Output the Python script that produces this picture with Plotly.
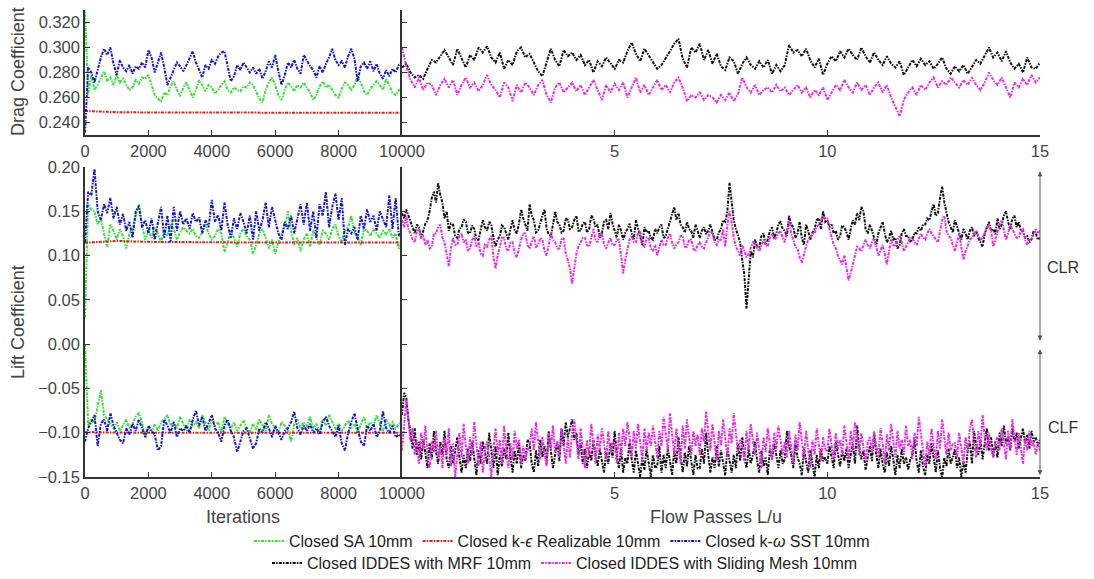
import numpy as np
import plotly.graph_objects as go

# ---------------- data ----------------
# Left panels: iterations 0..10000 (evenly sampled)
ITER_MAX = 10000
sa_cd = [0.332, 0.262, 0.278, 0.266, 0.270, 0.276, 0.281, 0.273, 0.276, 0.270,
         0.278, 0.272, 0.275, 0.270, 0.266, 0.268, 0.274, 0.271, 0.276, 0.275,
         0.278, 0.270, 0.262, 0.259, 0.257, 0.264, 0.262, 0.269, 0.273, 0.266,
         0.261, 0.268, 0.272, 0.266, 0.260, 0.266, 0.274, 0.270, 0.265, 0.270,
         0.268, 0.263, 0.266, 0.270, 0.273, 0.266, 0.264, 0.268, 0.266, 0.265,
         0.269, 0.268, 0.272, 0.270, 0.265, 0.259, 0.256, 0.266, 0.272, 0.276,
         0.270, 0.262, 0.258, 0.266, 0.272, 0.269, 0.265, 0.270, 0.268, 0.272,
         0.268, 0.264, 0.258, 0.262, 0.269, 0.273, 0.268, 0.270, 0.266, 0.262,
         0.260, 0.267, 0.272, 0.270, 0.266, 0.270, 0.277, 0.272, 0.265, 0.262,
         0.267, 0.270, 0.273, 0.270, 0.266, 0.275, 0.270, 0.264, 0.262, 0.266,
         0.265]
ke_cd = [0.2492, 0.2483, 0.2480, 0.2479, 0.2478, 0.2478, 0.2478, 0.2478, 0.2478, 0.2478, 0.2478]
sst_cd = [0.232, 0.284, 0.280, 0.272, 0.282, 0.292, 0.299, 0.294, 0.300, 0.287,
          0.278, 0.290, 0.284, 0.281, 0.286, 0.279, 0.285, 0.283, 0.288, 0.284,
          0.298, 0.292, 0.280, 0.288, 0.296, 0.284, 0.270, 0.276, 0.282, 0.288,
          0.285, 0.281, 0.286, 0.292, 0.297, 0.288, 0.282, 0.276, 0.286, 0.283,
          0.290, 0.287, 0.293, 0.296, 0.297, 0.285, 0.273, 0.277, 0.286, 0.282,
          0.288, 0.284, 0.280, 0.284, 0.279, 0.283, 0.275, 0.281, 0.289, 0.284,
          0.294, 0.281, 0.270, 0.278, 0.288, 0.284, 0.290, 0.283, 0.279, 0.294,
          0.289, 0.285, 0.282, 0.276, 0.285, 0.280, 0.287, 0.292, 0.299, 0.290,
          0.286, 0.289, 0.284, 0.293, 0.299, 0.291, 0.273, 0.285, 0.288, 0.283,
          0.289, 0.281, 0.287, 0.279, 0.275, 0.282, 0.277, 0.283, 0.280, 0.286,
          0.288]

sa_clr = [0.030, 0.158, 0.152, 0.150, 0.135, 0.142, 0.125, 0.110, 0.135, 0.128,
          0.118, 0.130, 0.122, 0.108, 0.125, 0.130, 0.145, 0.158, 0.135, 0.118,
          0.128, 0.120, 0.132, 0.125, 0.115, 0.128, 0.122, 0.135, 0.130, 0.118,
          0.126, 0.132, 0.128, 0.125, 0.130, 0.122, 0.120, 0.128, 0.135, 0.125,
          0.118, 0.122, 0.130, 0.125, 0.104, 0.115, 0.128, 0.120, 0.110, 0.125,
          0.130, 0.122, 0.118, 0.102, 0.112, 0.125, 0.130, 0.120, 0.108, 0.118,
          0.102, 0.115, 0.125, 0.132, 0.150, 0.128, 0.112, 0.120, 0.105, 0.118,
          0.125, 0.110, 0.128, 0.120, 0.112, 0.128, 0.125, 0.118, 0.130, 0.135,
          0.122, 0.115, 0.128, 0.132, 0.145, 0.125, 0.120, 0.112, 0.130, 0.128,
          0.122, 0.130, 0.125, 0.120, 0.128, 0.124, 0.130, 0.120, 0.125, 0.108,
          0.115]
ke_clr = [0.1145, 0.1165, 0.1155, 0.1150, 0.1148, 0.1148, 0.1148, 0.1148, 0.1148, 0.1148, 0.1148]
sst_clr = [0.115, 0.172, 0.168, 0.198, 0.150, 0.140, 0.158, 0.148, 0.165, 0.142,
           0.155, 0.135, 0.147, 0.128, 0.138, 0.120, 0.150, 0.156, 0.132, 0.140,
           0.125, 0.142, 0.118, 0.138, 0.155, 0.120, 0.145, 0.116, 0.155, 0.128,
           0.150, 0.135, 0.142, 0.130, 0.148, 0.138, 0.143, 0.125, 0.140, 0.132,
           0.163, 0.138, 0.146, 0.128, 0.160, 0.135, 0.120, 0.142, 0.130, 0.148,
           0.138, 0.125, 0.145, 0.118, 0.150, 0.128, 0.140, 0.160, 0.132, 0.155,
           0.140, 0.125, 0.118, 0.138, 0.130, 0.145, 0.125, 0.140, 0.158, 0.135,
           0.160, 0.128, 0.150, 0.120, 0.158, 0.145, 0.172, 0.132, 0.155, 0.170,
           0.140, 0.165, 0.112, 0.130, 0.125, 0.132, 0.118, 0.145, 0.130, 0.152,
           0.138, 0.145, 0.128, 0.150, 0.140, 0.132, 0.168, 0.130, 0.165, 0.122,
           0.128]

sa_clf = [0.000, -0.092, -0.085, -0.088, -0.070, -0.052, -0.080, -0.085, -0.090, -0.095,
          -0.088, -0.098, -0.092, -0.085, -0.095, -0.090, -0.082, -0.078, -0.088, -0.105,
          -0.095, -0.100, -0.090, -0.098, -0.088, -0.085, -0.080, -0.092, -0.088, -0.095,
          -0.082, -0.090, -0.098, -0.085, -0.092, -0.088, -0.095, -0.080, -0.090, -0.098,
          -0.085, -0.092, -0.088, -0.100, -0.082, -0.090, -0.095, -0.088, -0.098, -0.092,
          -0.086, -0.095, -0.100, -0.090, -0.096, -0.085, -0.092, -0.098, -0.080, -0.090,
          -0.095, -0.100, -0.088, -0.092, -0.098, -0.110, -0.090, -0.085, -0.095, -0.088,
          -0.092, -0.082, -0.095, -0.090, -0.100, -0.085, -0.092, -0.080, -0.088, -0.095,
          -0.090, -0.098, -0.092, -0.086, -0.095, -0.090, -0.100, -0.092, -0.082, -0.095,
          -0.088, -0.092, -0.080, -0.090, -0.098, -0.085, -0.092, -0.088, -0.095, -0.090,
          -0.088]
ke_clf = [-0.0995, -0.1000, -0.1000, -0.1000, -0.1000, -0.1000, -0.1000, -0.1000, -0.1000, -0.1000, -0.1000]
sst_clf = [-0.110, -0.095, -0.088, -0.080, -0.115, -0.090, -0.085, -0.098, -0.078, -0.092,
           -0.100, -0.108, -0.112, -0.095, -0.102, -0.090, -0.098, -0.085, -0.095, -0.105,
           -0.092, -0.098, -0.102, -0.120, -0.115, -0.085, -0.092, -0.100, -0.088, -0.105,
           -0.095, -0.098, -0.092, -0.100, -0.085, -0.075, -0.092, -0.082, -0.098, -0.090,
           -0.080, -0.095, -0.100, -0.110, -0.092, -0.085, -0.098, -0.105, -0.122, -0.110,
           -0.098, -0.095, -0.108, -0.118, -0.112, -0.095, -0.100, -0.088, -0.095, -0.105,
           -0.092, -0.100, -0.108, -0.098, -0.095, -0.088, -0.076, -0.095, -0.102, -0.092,
           -0.098, -0.090, -0.100, -0.095, -0.102, -0.088, -0.082, -0.092, -0.098, -0.105,
           -0.092, -0.112, -0.120, -0.100, -0.088, -0.078, -0.095, -0.110, -0.115, -0.092,
           -0.098, -0.090, -0.105, -0.098, -0.076, -0.095, -0.100, -0.092, -0.105, -0.102,
           -0.105]

# Right panels: flow passes L/u 0..15 (evenly sampled)
FP_MAX = 15
mrf_cd = [0.284, 0.287, 0.280, 0.276, 0.278, 0.275, 0.283, 0.290, 0.288, 0.293,
          0.298, 0.292, 0.286, 0.299, 0.291, 0.284, 0.294, 0.290, 0.300, 0.296,
          0.301, 0.292, 0.288, 0.296, 0.283, 0.290, 0.286, 0.297, 0.300, 0.292,
          0.295, 0.288, 0.281, 0.277, 0.289, 0.299, 0.290, 0.285, 0.298, 0.293,
          0.296, 0.290, 0.294, 0.286, 0.290, 0.280, 0.289, 0.285, 0.292, 0.287,
          0.283, 0.290, 0.288, 0.297, 0.304, 0.295, 0.289, 0.299, 0.294, 0.288,
          0.283, 0.286, 0.291, 0.297, 0.303, 0.307, 0.291, 0.284, 0.300, 0.296,
          0.303, 0.290, 0.298, 0.287, 0.295, 0.285, 0.282, 0.292, 0.289, 0.279,
          0.287, 0.292, 0.286, 0.283, 0.289, 0.284, 0.290, 0.279, 0.286, 0.281,
          0.286, 0.302, 0.296, 0.298, 0.293, 0.299, 0.290, 0.284, 0.291, 0.278,
          0.287, 0.293, 0.289, 0.297, 0.292, 0.299, 0.294, 0.290, 0.300, 0.293,
          0.288, 0.296, 0.290, 0.286, 0.293, 0.287, 0.284, 0.289, 0.278, 0.284,
          0.290, 0.285, 0.291, 0.286, 0.289, 0.283, 0.287, 0.292, 0.283, 0.279,
          0.285, 0.281, 0.286, 0.279, 0.284, 0.290, 0.287, 0.294, 0.300, 0.292,
          0.296, 0.289, 0.297, 0.288, 0.283, 0.287, 0.280, 0.292, 0.284, 0.283,
          0.288]
sm_cd = [0.300, 0.285, 0.274, 0.268, 0.276, 0.266, 0.272, 0.270, 0.262, 0.270,
         0.275, 0.268, 0.274, 0.262, 0.270, 0.276, 0.268, 0.272, 0.265, 0.270,
         0.278, 0.270, 0.266, 0.260, 0.272, 0.268, 0.257, 0.270, 0.264, 0.272,
         0.268, 0.262, 0.270, 0.274, 0.262, 0.256, 0.268, 0.272, 0.264, 0.268,
         0.272, 0.265, 0.270, 0.262, 0.268, 0.274, 0.266, 0.258, 0.270, 0.264,
         0.271, 0.266, 0.272, 0.260, 0.268, 0.276, 0.264, 0.270, 0.262, 0.268,
         0.274, 0.266, 0.270, 0.264, 0.272, 0.276, 0.268, 0.257, 0.262, 0.260,
         0.264, 0.258, 0.262, 0.260, 0.256, 0.262, 0.258, 0.264, 0.257, 0.263,
         0.276, 0.268, 0.264, 0.270, 0.262, 0.266, 0.268, 0.264, 0.270, 0.265,
         0.268, 0.262, 0.266, 0.270, 0.264, 0.268, 0.260, 0.266, 0.262, 0.268,
         0.258, 0.264, 0.270, 0.266, 0.274, 0.268, 0.264, 0.272, 0.266, 0.270,
         0.262, 0.268, 0.272, 0.264, 0.270, 0.260, 0.252, 0.245, 0.258, 0.264,
         0.268, 0.262, 0.270, 0.266, 0.272, 0.276, 0.268, 0.273, 0.270, 0.276,
         0.272, 0.268, 0.274, 0.270, 0.276, 0.270, 0.266, 0.272, 0.280, 0.274,
         0.270, 0.276, 0.268, 0.260, 0.272, 0.268, 0.275, 0.270, 0.278, 0.272,
         0.276]

mrf_clr = [0.148, 0.142, 0.152, 0.145, 0.138, 0.130, 0.125, 0.135, 0.132, 0.120, 0.128, 0.136, 0.140, 0.150, 0.165, 0.172, 0.160, 0.182, 0.168, 0.160,
           0.142, 0.150, 0.128, 0.136, 0.135, 0.122, 0.120, 0.130, 0.132, 0.141, 0.138, 0.126, 0.125, 0.134, 0.130, 0.118, 0.118, 0.128, 0.140, 0.132,
           0.128, 0.138, 0.135, 0.120, 0.110, 0.118, 0.122, 0.134, 0.132, 0.125, 0.118, 0.130, 0.140, 0.128, 0.125, 0.136, 0.152, 0.142, 0.135, 0.128,
           0.158, 0.145, 0.140, 0.126, 0.128, 0.138, 0.145, 0.152, 0.130, 0.124, 0.122, 0.135, 0.150, 0.138, 0.135, 0.126, 0.128, 0.142, 0.140, 0.130,
           0.132, 0.140, 0.145, 0.128, 0.128, 0.136, 0.138, 0.126, 0.130, 0.145, 0.142, 0.132, 0.135, 0.120, 0.125, 0.138, 0.140, 0.130, 0.148, 0.136,
           0.128, 0.120, 0.135, 0.128, 0.118, 0.126, 0.130, 0.136, 0.125, 0.118, 0.140, 0.130, 0.120, 0.112, 0.132, 0.126, 0.128, 0.120, 0.118, 0.130,
           0.125, 0.132, 0.135, 0.120, 0.122, 0.130, 0.140, 0.148, 0.155, 0.140, 0.148, 0.135, 0.132, 0.126, 0.138, 0.130, 0.128, 0.120, 0.135, 0.128,
           0.120, 0.128, 0.132, 0.124, 0.128, 0.135, 0.125, 0.118, 0.118, 0.126, 0.130, 0.140, 0.138, 0.150, 0.182, 0.160, 0.140, 0.130, 0.122, 0.115,
           0.095, 0.078, 0.040, 0.070, 0.105, 0.098, 0.118, 0.110, 0.110, 0.122, 0.125, 0.112, 0.118, 0.128, 0.132, 0.120, 0.125, 0.136, 0.138, 0.130,
           0.128, 0.122, 0.145, 0.135, 0.132, 0.120, 0.125, 0.138, 0.120, 0.112, 0.135, 0.128, 0.118, 0.126, 0.130, 0.140, 0.142, 0.130, 0.150, 0.138,
           0.140, 0.132, 0.135, 0.125, 0.128, 0.118, 0.122, 0.134, 0.132, 0.126, 0.118, 0.130, 0.140, 0.135, 0.148, 0.140, 0.155, 0.150, 0.130, 0.125,
           0.135, 0.128, 0.120, 0.112, 0.125, 0.132, 0.138, 0.125, 0.115, 0.120, 0.128, 0.118, 0.120, 0.108, 0.112, 0.125, 0.130, 0.122, 0.122, 0.115,
           0.118, 0.126, 0.125, 0.132, 0.128, 0.135, 0.135, 0.142, 0.140, 0.150, 0.158, 0.145, 0.148, 0.165, 0.178, 0.160, 0.150, 0.138, 0.132, 0.126,
           0.140, 0.132, 0.125, 0.118, 0.130, 0.125, 0.118, 0.128, 0.132, 0.122, 0.128, 0.120, 0.115, 0.110, 0.125, 0.132, 0.138, 0.128, 0.130, 0.124,
           0.142, 0.130, 0.135, 0.145, 0.150, 0.138, 0.130, 0.142, 0.145, 0.132, 0.138, 0.128, 0.128, 0.120, 0.122, 0.115, 0.118, 0.128, 0.125, 0.118,
           0.120]
sm_clr = [0.140, 0.132, 0.145, 0.130, 0.125, 0.118, 0.115, 0.128, 0.130, 0.120, 0.122, 0.112, 0.118, 0.108, 0.110, 0.125, 0.125, 0.132, 0.135, 0.120,
          0.115, 0.100, 0.088, 0.108, 0.120, 0.112, 0.112, 0.122, 0.125, 0.115, 0.118, 0.105, 0.108, 0.118, 0.122, 0.110, 0.115, 0.102, 0.100, 0.112,
          0.110, 0.118, 0.122, 0.098, 0.085, 0.100, 0.112, 0.120, 0.120, 0.108, 0.105, 0.115, 0.115, 0.102, 0.098, 0.110, 0.118, 0.125, 0.125, 0.112,
          0.108, 0.116, 0.122, 0.110, 0.112, 0.120, 0.118, 0.105, 0.100, 0.112, 0.125, 0.118, 0.115, 0.108, 0.108, 0.118, 0.120, 0.102, 0.095, 0.085,
          0.068, 0.085, 0.102, 0.110, 0.115, 0.120, 0.120, 0.112, 0.110, 0.122, 0.130, 0.118, 0.115, 0.125, 0.125, 0.112, 0.108, 0.115, 0.120, 0.112,
          0.112, 0.118, 0.118, 0.100, 0.080, 0.095, 0.105, 0.118, 0.122, 0.115, 0.115, 0.125, 0.128, 0.112, 0.110, 0.120, 0.120, 0.108, 0.105, 0.112,
          0.100, 0.110, 0.118, 0.112, 0.112, 0.120, 0.125, 0.115, 0.108, 0.112, 0.115, 0.122, 0.122, 0.110, 0.110, 0.118, 0.118, 0.108, 0.105, 0.112,
          0.115, 0.110, 0.108, 0.115, 0.120, 0.128, 0.125, 0.115, 0.112, 0.118, 0.118, 0.130, 0.110, 0.135, 0.150, 0.138, 0.120, 0.110, 0.105, 0.100,
          0.112, 0.105, 0.098, 0.102, 0.108, 0.115, 0.115, 0.108, 0.105, 0.112, 0.118, 0.112, 0.110, 0.120, 0.125, 0.118, 0.120, 0.125, 0.128, 0.120,
          0.115, 0.128, 0.140, 0.125, 0.118, 0.110, 0.108, 0.098, 0.092, 0.102, 0.110, 0.118, 0.120, 0.125, 0.125, 0.132, 0.135, 0.140, 0.145, 0.142,
          0.142, 0.130, 0.120, 0.112, 0.108, 0.100, 0.095, 0.090, 0.100, 0.085, 0.072, 0.080, 0.090, 0.102, 0.110, 0.108, 0.105, 0.112, 0.118, 0.112,
          0.108, 0.115, 0.120, 0.110, 0.100, 0.106, 0.112, 0.102, 0.090, 0.105, 0.118, 0.112, 0.110, 0.118, 0.122, 0.115, 0.105, 0.110, 0.115, 0.120,
          0.120, 0.115, 0.112, 0.118, 0.125, 0.120, 0.118, 0.125, 0.130, 0.125, 0.122, 0.118, 0.115, 0.128, 0.140, 0.145, 0.128, 0.122, 0.120, 0.112,
          0.105, 0.115, 0.125, 0.110, 0.095, 0.105, 0.112, 0.118, 0.120, 0.124, 0.128, 0.122, 0.118, 0.120, 0.125, 0.130, 0.135, 0.128, 0.110, 0.118,
          0.128, 0.135, 0.140, 0.128, 0.118, 0.125, 0.135, 0.130, 0.125, 0.120, 0.120, 0.128, 0.130, 0.118, 0.112, 0.118, 0.118, 0.125, 0.130, 0.125,
          0.128]

mrf_clf = [-0.080, -0.055, -0.060, -0.085, -0.100, -0.118, -0.095, -0.125, -0.110, -0.130, -0.108, -0.125, -0.140, -0.112, -0.130, -0.098, -0.122, -0.135, -0.110, -0.125,
           -0.098, -0.130, -0.140, -0.115, -0.135, -0.120, -0.105, -0.128, -0.145, -0.125, -0.140, -0.118, -0.132, -0.110, -0.128, -0.148, -0.120, -0.135, -0.110, -0.125,
           -0.135, -0.100, -0.120, -0.140, -0.115, -0.148, -0.125, -0.138, -0.118, -0.130, -0.100, -0.128, -0.145, -0.120, -0.135, -0.112, -0.140, -0.125, -0.132, -0.108,
           -0.112, -0.135, -0.145, -0.120, -0.138, -0.108, -0.128, -0.115, -0.135, -0.098, -0.120, -0.140, -0.125, -0.110, -0.132, -0.095, -0.115, -0.088, -0.105, -0.095,
           -0.085, -0.108, -0.100, -0.125, -0.112, -0.135, -0.118, -0.140, -0.120, -0.132, -0.108, -0.125, -0.138, -0.118, -0.130, -0.145, -0.122, -0.135, -0.112, -0.128,
           -0.098, -0.125, -0.140, -0.118, -0.145, -0.128, -0.135, -0.110, -0.130, -0.145, -0.120, -0.138, -0.150, -0.128, -0.142, -0.118, -0.135, -0.150, -0.125, -0.140,
           -0.138, -0.115, -0.145, -0.125, -0.140, -0.118, -0.132, -0.148, -0.120, -0.135, -0.105, -0.128, -0.145, -0.122, -0.138, -0.115, -0.130, -0.148, -0.125, -0.140,
           -0.140, -0.118, -0.135, -0.100, -0.125, -0.145, -0.128, -0.140, -0.115, -0.138, -0.120, -0.135, -0.148, -0.118, -0.130, -0.145, -0.125, -0.140, -0.112, -0.132,
           -0.105, -0.128, -0.140, -0.118, -0.135, -0.125, -0.110, -0.132, -0.145, -0.120, -0.138, -0.128, -0.148, -0.118, -0.130, -0.112, -0.125, -0.140, -0.120, -0.135,
           -0.130, -0.098, -0.115, -0.125, -0.140, -0.112, -0.128, -0.135, -0.148, -0.118, -0.132, -0.145, -0.120, -0.138, -0.150, -0.125, -0.140, -0.118, -0.132, -0.128,
           -0.135, -0.115, -0.128, -0.140, -0.110, -0.125, -0.138, -0.120, -0.132, -0.118, -0.140, -0.125, -0.112, -0.135, -0.092, -0.118, -0.130, -0.120, -0.142, -0.128,
           -0.115, -0.132, -0.100, -0.125, -0.140, -0.118, -0.135, -0.145, -0.122, -0.138, -0.115, -0.130, -0.148, -0.125, -0.140, -0.118, -0.135, -0.128, -0.142, -0.130,
           -0.125, -0.108, -0.132, -0.145, -0.120, -0.138, -0.148, -0.125, -0.135, -0.112, -0.130, -0.145, -0.120, -0.140, -0.150, -0.128, -0.138, -0.118, -0.135, -0.128,
           -0.118, -0.140, -0.128, -0.150, -0.132, -0.145, -0.120, -0.110, -0.135, -0.098, -0.115, -0.125, -0.108, -0.130, -0.112, -0.095, -0.120, -0.105, -0.128, -0.110,
           -0.128, -0.100, -0.115, -0.092, -0.112, -0.105, -0.120, -0.095, -0.110, -0.100, -0.118, -0.108, -0.095, -0.112, -0.102, -0.118, -0.098, -0.110, -0.105, -0.115,
           -0.108]
sm_clf = [-0.120, -0.090, -0.062, -0.085, -0.110, -0.095, -0.125, -0.108, -0.135, -0.100, -0.118, -0.092, -0.128, -0.140, -0.110, -0.122, -0.098, -0.130, -0.115, -0.140,
          -0.105, -0.125, -0.095, -0.138, -0.112, -0.150, -0.120, -0.100, -0.128, -0.090, -0.115, -0.135, -0.105, -0.125, -0.088, -0.118, -0.138, -0.110, -0.145, -0.120,
          -0.110, -0.128, -0.150, -0.118, -0.095, -0.125, -0.108, -0.135, -0.092, -0.120, -0.140, -0.112, -0.130, -0.098, -0.118, -0.108, -0.135, -0.115, -0.130, -0.120,
          -0.115, -0.095, -0.120, -0.088, -0.110, -0.130, -0.105, -0.125, -0.138, -0.100, -0.118, -0.092, -0.122, -0.110, -0.128, -0.095, -0.112, -0.135, -0.105, -0.128,
          -0.100, -0.085, -0.112, -0.130, -0.095, -0.118, -0.140, -0.108, -0.125, -0.090, -0.115, -0.135, -0.102, -0.120, -0.095, -0.112, -0.130, -0.098, -0.122, -0.110,
          -0.112, -0.135, -0.100, -0.125, -0.095, -0.115, -0.088, -0.105, -0.128, -0.098, -0.118, -0.090, -0.110, -0.132, -0.095, -0.120, -0.100, -0.115, -0.092, -0.108,
          -0.128, -0.098, -0.115, -0.082, -0.105, -0.120, -0.078, -0.100, -0.125, -0.095, -0.115, -0.135, -0.092, -0.118, -0.085, -0.108, -0.125, -0.098, -0.115, -0.102,
          -0.125, -0.095, -0.110, -0.076, -0.100, -0.120, -0.090, -0.112, -0.132, -0.098, -0.115, -0.085, -0.108, -0.128, -0.095, -0.112, -0.078, -0.100, -0.122, -0.108,
          -0.115, -0.132, -0.098, -0.120, -0.090, -0.108, -0.125, -0.100, -0.118, -0.140, -0.105, -0.122, -0.095, -0.112, -0.130, -0.100, -0.118, -0.092, -0.110, -0.125,
          -0.110, -0.128, -0.098, -0.115, -0.135, -0.102, -0.120, -0.088, -0.112, -0.130, -0.098, -0.118, -0.140, -0.108, -0.125, -0.095, -0.115, -0.132, -0.105, -0.120,
          -0.120, -0.095, -0.115, -0.130, -0.100, -0.118, -0.108, -0.125, -0.092, -0.112, -0.130, -0.098, -0.118, -0.088, -0.108, -0.125, -0.100, -0.118, -0.132, -0.110,
          -0.105, -0.122, -0.098, -0.115, -0.128, -0.095, -0.112, -0.135, -0.102, -0.120, -0.090, -0.110, -0.128, -0.098, -0.118, -0.108, -0.125, -0.092, -0.115, -0.108,
          -0.130, -0.100, -0.115, -0.082, -0.105, -0.120, -0.138, -0.110, -0.125, -0.095, -0.115, -0.130, -0.098, -0.118, -0.085, -0.108, -0.125, -0.100, -0.120, -0.112,
          -0.112, -0.128, -0.100, -0.118, -0.135, -0.105, -0.122, -0.095, -0.085, -0.110, -0.128, -0.098, -0.115, -0.080, -0.105, -0.120, -0.100, -0.118, -0.128, -0.110,
          -0.105, -0.120, -0.095, -0.112, -0.130, -0.098, -0.118, -0.085, -0.108, -0.125, -0.100, -0.118, -0.135, -0.105, -0.120, -0.098, -0.115, -0.110, -0.125, -0.112,
          -0.120]

iter_ticks = [0, 2000, 4000, 6000, 8000, 10000]
iter_labels = ["0", "2000", "4000", "6000", "8000", "10000"]
fp_ticks = [5, 10, 15]
cd_ticks = [0.24, 0.26, 0.28, 0.30, 0.32]
cl_ticks = [-0.15, -0.10, -0.05, 0.00, 0.05, 0.10, 0.15, 0.20]

names = {
    "sa": "Closed SA 10mm",
    "ke": "Closed k-<i>ϵ</i> Realizable 10mm",
    "sst": "Closed k-<i>ω</i> SST 10mm",
    "mrf": "Closed IDDES with MRF 10mm",
    "sm": "Closed IDDES with Sliding Mesh 10mm",
}
colors = {"sa": "#35e035", "ke": "#e02020", "sst": "#1414c8", "mrf": "#111111", "sm": "#e82ae8"}

# ---------------- figure ----------------
FONT = "Liberation Sans, Arial, sans-serif"
DASH = "3px,1.2px,1.5px,1.2px"
fig = go.Figure()


def add(vals, xmax, key, xa, ya, legend="legend", show=False, width=2.0):
    xs = np.linspace(0, xmax, len(vals))
    fig.add_trace(go.Scatter(
        x=xs, y=vals, mode="lines", name=names[key],
        line=dict(color=colors[key], width=width, dash=DASH),
        xaxis=xa, yaxis=ya, showlegend=show, legendgroup=key, legend=legend,
    ))


# left panels: order green, red, blue
add(sa_cd, ITER_MAX, "sa", "x", "y", "legend", True)
add(ke_cd, ITER_MAX, "ke", "x", "y", "legend", True)
add(sst_cd, ITER_MAX, "sst", "x", "y", "legend", True)
add(sa_clr, ITER_MAX, "sa", "x3", "y3")
add(sa_clf, ITER_MAX, "sa", "x3", "y3")
add(ke_clr, ITER_MAX, "ke", "x3", "y3")
add(ke_clf, ITER_MAX, "ke", "x3", "y3")
add(sst_clr, ITER_MAX, "sst", "x3", "y3")
add(sst_clf, ITER_MAX, "sst", "x3", "y3")
# right panels
add(mrf_cd, FP_MAX, "mrf", "x2", "y2", "legend2", True)
add(sm_cd, FP_MAX, "sm", "x2", "y2", "legend2", True)
add(mrf_clr, FP_MAX, "mrf", "x4", "y4", "legend2")
add(mrf_clf, FP_MAX, "mrf", "x4", "y4", "legend2")
add(sm_clr, FP_MAX, "sm", "x4", "y4", "legend2")
add(sm_clf, FP_MAX, "sm", "x4", "y4", "legend2")

W, H = 1094, 579
ML, MR, MT, MB = 85, 54, 10, 102
pw, ph = W - ML - MR, H - MT - MB
xsplit = (402 - ML) / pw
top_lo = (H - MB - 135) / ph
bot_hi = (H - MB - 167) / ph


def px_x(px):
    return (px - ML) / pw


def px_y(py):
    return (H - MB - py) / ph


axis_common = dict(
    showline=True, linecolor="#333333", linewidth=1.5, ticks="inside", ticklen=5,
    tickwidth=1.2, tickcolor="#333333", showgrid=False, zeroline=False, automargin=False,
    tickfont=dict(family=FONT, size=16.5, color="#444444"), mirror=False,
)

leg_font = dict(family=FONT, size=16, color="#222222")
fig.update_layout(
    width=W, height=H, margin=dict(l=ML, r=MR, t=MT, b=MB, autoexpand=False),
    paper_bgcolor="white", plot_bgcolor="white",
    font=dict(family=FONT, size=16, color="#333333"),
    xaxis=dict(domain=[0, xsplit], range=[0, ITER_MAX], tickvals=iter_ticks, ticktext=iter_labels, anchor="y", **axis_common),
    yaxis=dict(domain=[top_lo, 1], range=[0.23, 0.33], tickvals=cd_ticks, tickformat=".3f", anchor="x", **axis_common),
    xaxis2=dict(domain=[xsplit, 1], range=[0, FP_MAX], tickvals=fp_ticks, anchor="y2", **axis_common),
    yaxis2=dict(domain=[top_lo, 1], range=[0.23, 0.33], tickvals=cd_ticks, showticklabels=False, anchor="x2", **axis_common),
    xaxis3=dict(domain=[0, xsplit], range=[0, ITER_MAX], tickvals=iter_ticks, ticktext=iter_labels, anchor="y3", **axis_common),
    yaxis3=dict(domain=[0, bot_hi], range=[-0.15, 0.20], tickvals=cl_ticks, tickformat=".2f", anchor="x3", **axis_common),
    xaxis4=dict(domain=[xsplit, 1], range=[0, FP_MAX], tickvals=fp_ticks, anchor="y4", **axis_common),
    yaxis4=dict(domain=[0, bot_hi], range=[-0.15, 0.20], tickvals=cl_ticks, showticklabels=False, anchor="x4", **axis_common),
    legend=dict(orientation="h", xref="container", yref="container", x=562 / W, xanchor="center",
                y=(H - 541) / H, yanchor="middle", font=leg_font, itemwidth=30,
                bgcolor="rgba(0,0,0,0)", tracegroupgap=0),
    legend2=dict(orientation="h", xref="container", yref="container", x=565 / W, xanchor="center",
                 y=(H - 563) / H, yanchor="middle", font=leg_font, itemwidth=30,
                 bgcolor="rgba(0,0,0,0)", tracegroupgap=0),
)

ann = []
title_font = dict(family=FONT, size=18, color="#444444")
ann.append(dict(text="Drag Coefficient", x=px_x(18), y=px_y(72), xref="paper", yref="paper",
                textangle=-90, showarrow=False, font=title_font, xanchor="center", yanchor="middle"))
ann.append(dict(text="Lift Coefficient", x=px_x(18), y=px_y(322), xref="paper", yref="paper",
                textangle=-90, showarrow=False, font=title_font, xanchor="center", yanchor="middle"))
ann.append(dict(text="Iterations", x=px_x(243), y=px_y(517), xref="paper", yref="paper",
                showarrow=False, font=title_font, xanchor="center", yanchor="middle"))
ann.append(dict(text="Flow Passes L/u", x=px_x(716), y=px_y(517), xref="paper", yref="paper",
                showarrow=False, font=title_font, xanchor="center", yanchor="middle"))
for (y0, y1) in [(0.197, 0.004), (-0.004, -0.148)]:
    ann.append(dict(x=FP_MAX, y=y1, ax=FP_MAX, ay=y0, xref="x4", yref="y4", axref="x4", ayref="y4",
                    text="", showarrow=True, arrowhead=2, startarrowhead=2, arrowside="end+start",
                    arrowsize=1, startarrowsize=1, arrowwidth=1, arrowcolor="#555555"))
ann.append(dict(text="CLR", x=px_x(1063), y=0.086, xref="paper", yref="y4", showarrow=False,
                font=dict(family=FONT, size=16, color="#333333"), xanchor="center", yanchor="middle"))
ann.append(dict(text="CLF", x=px_x(1063), y=-0.094, xref="paper", yref="y4", showarrow=False,
                font=dict(family=FONT, size=16, color="#333333"), xanchor="center", yanchor="middle"))
fig.update_layout(annotations=ann)

fig.write_html("out.html")
